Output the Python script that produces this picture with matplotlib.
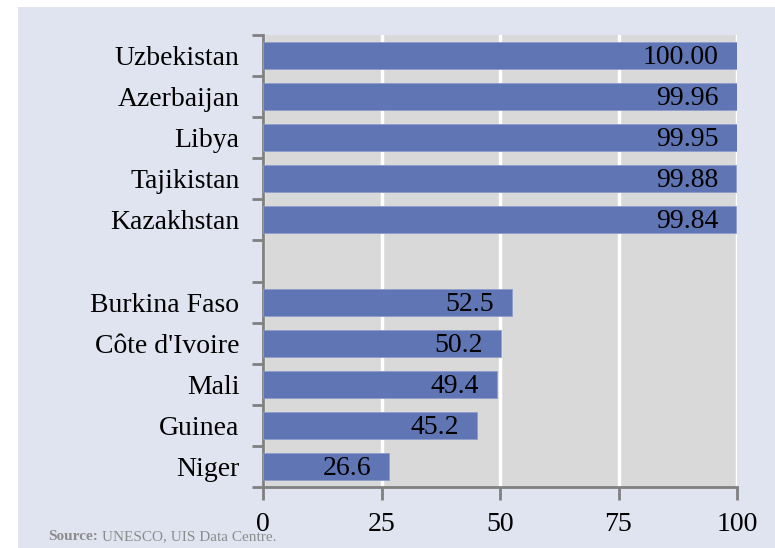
import matplotlib
matplotlib.use("Agg")
import matplotlib.pyplot as plt
from matplotlib.patches import Rectangle

countries = ["Uzbekistan", "Azerbaijan", "Libya", "Tajikistan", "Kazakhstan", "",
             "Burkina Faso", "Côte d'Ivoire", "Mali", "Guinea", "Niger"]
values = [100.00, 99.96, 99.95, 99.88, 99.84, None, 52.5, 50.2, 49.4, 45.2, 26.6]
value_labels = ["100.00", "99.96", "99.95", "99.88", "99.84", "", "52.5", "50.2", "49.4", "45.2", "26.6"]
xticks = [0, 25, 50, 75, 100]

plt.rcParams['font.family'] = ['Liberation Serif', 'DejaVu Serif']

fig = plt.figure(figsize=(7.75, 5.48), dpi=100)
fig.patch.set_facecolor("white")
fig.patches.append(Rectangle((18/775, 0), 1, 1 - 7/548, transform=fig.transFigure,
                             facecolor="#E0E4F0", edgecolor="none", zorder=-10))

ax = fig.add_axes([263/775, 1 - 487/548, (737-263)/775, (487-35)/548])
ax.set_facecolor("#D9D9D9")
n = len(countries)
ypos = list(range(n))
bar_color = "#6076B4"
for y, v, lab in zip(ypos, values, value_labels):
    if v is None:
        continue
    ax.barh(y, v, height=0.66, color=bar_color, edgecolor="#8C9CCB", linewidth=0.6, zorder=3)
    ax.annotate(lab, xy=(v, y), xytext=(-13, -1.5), textcoords="offset points",
                ha="right", va="center", fontsize=20, color="black", zorder=4)

ax.set_xlim(0, 100)
ax.set_ylim(n - 0.5, -0.5)
ax.set_xticks(xticks)
ax.set_xticklabels([str(t) for t in xticks], fontsize=20)
ax.xaxis.grid(True, color="white", linewidth=2.5, zorder=1)
ax.set_axisbelow(True)

# y ticks at category boundaries; labels at centers
ax.set_yticks([i - 0.5 for i in range(n + 1)])
ax.set_yticklabels([])
ax.set_yticks(ypos, minor=True)
ax.set_yticklabels(countries, minor=True, fontsize=20)
ax.tick_params(axis="y", which="minor", length=0, pad=17)
ax.tick_params(axis="y", which="major", length=8, width=2, color="#808080", direction="out")
ax.tick_params(axis="x", length=9, width=2, color="#808080", direction="out", pad=9)

for s in ["top", "right"]:
    ax.spines[s].set_visible(False)
for s in ["left", "bottom"]:
    ax.spines[s].set_color("#808080")
    ax.spines[s].set_linewidth(2)

fig.text(48/775, 1 - 537/548, "Source:", fontsize=11, fontweight="bold", color="#8C8C8C",
         va="center", ha="left")
fig.text(102/775, 1 - 537/548, "UNESCO, UIS Data Centre.", fontsize=11, color="#8C8C8C",
         va="center", ha="left")

fig.savefig("out.png", dpi=100, facecolor=fig.get_facecolor())
